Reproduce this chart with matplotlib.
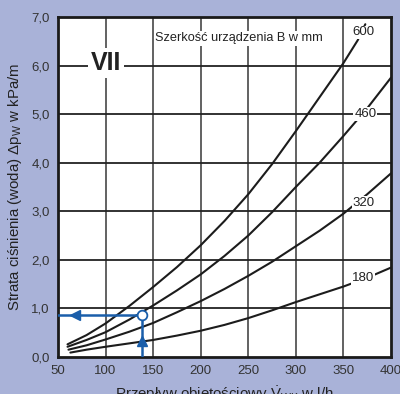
import numpy as np
import matplotlib.pyplot as plt

plt.rcParams['font.family'] = ['Liberation Sans', 'DejaVu Sans']
plt.rcParams['mathtext.fontset'] = 'custom'
plt.rcParams['mathtext.rm'] = 'Liberation Sans'
plt.rcParams['mathtext.it'] = 'Liberation Sans:italic'

# przeplyw [l/h] i strata cisnienia [kPa/m] dla szerokosci B
x600 = [60, 80, 100, 125, 150, 175, 200, 225, 250, 275, 300, 325, 350, 365, 373]
y600 = [0.26, 0.45, 0.69, 1.05, 1.44, 1.85, 2.3, 2.8, 3.35, 3.97, 4.65, 5.35, 6.05, 6.52, 6.85]
x460 = [60, 80, 100, 125, 150, 175, 200, 225, 250, 275, 300, 325, 350, 375, 400]
y460 = [0.21, 0.35, 0.51, 0.77, 1.06, 1.37, 1.7, 2.08, 2.5, 2.98, 3.5, 4.0, 4.55, 5.12, 5.75]
x320 = [61, 80, 100, 125, 150, 175, 200, 225, 250, 275, 300, 325, 350, 375, 400]
y320 = [0.15, 0.24, 0.36, 0.52, 0.7, 0.92, 1.15, 1.4, 1.67, 1.96, 2.28, 2.6, 2.95, 3.35, 3.78]
x180 = [63, 80, 100, 125, 150, 175, 200, 225, 250, 275, 300, 325, 350, 375, 400]
y180 = [0.09, 0.15, 0.21, 0.28, 0.35, 0.44, 0.54, 0.66, 0.8, 0.96, 1.13, 1.29, 1.45, 1.63, 1.84]

labels = ['600', '460', '320', '180']
label_x = [371, 373, 371, 371]
label_y = [6.68, 5.0, 3.17, 1.62]

# punkt odczytu
read_x = 138
read_y = 0.87

xticks = [50, 100, 150, 200, 250, 300, 350, 400]
yticks = [0, 1, 2, 3, 4, 5, 6, 7]

bg = '#a9b2d8'
blue = '#1a5eaa'

fig = plt.figure(figsize=(4.0, 3.94), dpi=100, facecolor=bg)
ax = fig.add_axes([0.145, 0.094, 0.8325, 0.863])
ax.set_xlim(50, 400)
ax.set_ylim(0, 7)

for v in xticks[1:-1]:
    ax.axvline(v, color='#555555', lw=1.3, zorder=1)
for v in yticks[1:-1]:
    ax.axhline(v, color='#222222', lw=1.3, zorder=1)

for xs, ys in [(x600, y600), (x460, y460), (x320, y320), (x180, y180)]:
    ax.plot(xs, ys, color='#1c1c1c', lw=1.5, zorder=3, solid_capstyle='round',
            solid_joinstyle='round')

for t, lx, ly in zip(labels, label_x, label_y):
    ax.text(lx, ly, t, fontsize=9.5, color='#222222', ha='center', va='center', zorder=4,
            bbox=dict(facecolor='white', edgecolor='none', pad=0.6))

# linie odczytu
ax.plot([read_x, read_x], [0, read_y], color=blue, lw=1.8, zorder=5)
ax.plot([50, read_x], [read_y, read_y], color=blue, lw=1.8, zorder=5)
ax.plot([read_x], [0.33], marker='^', color=blue, ms=7, zorder=6)
ax.plot([68], [read_y], marker='<', color=blue, ms=7, zorder=6)
ax.plot([read_x], [read_y], marker='o', mfc='white', mec=blue, mew=1.3, ms=7, zorder=7)

ax.text(100, 6.05, 'VII', fontsize=18, fontweight='bold', color='#222222', ha='center', va='center',
        zorder=4, bbox=dict(facecolor='white', edgecolor='none', pad=2))
ax.text(152, 6.56, 'Szerkość urządzenia B w mm', fontsize=9.2, color='#222222', ha='left', va='center',
        zorder=4, bbox=dict(facecolor='white', edgecolor='none', pad=1))

ax.set_xticks(xticks)
ax.set_yticks(yticks)
ax.set_xticklabels([str(v) for v in xticks])
ax.set_yticklabels(['%d,0' % v for v in yticks])
ax.tick_params(length=0, labelsize=9.5, labelcolor='#333333', pad=6)
for s in ax.spines.values():
    s.set_linewidth(2)
    s.set_color('#1a1a1a')

ax.set_xlabel(r'Przepływ objętościowy $\dot{\mathrm{V}}_{\mathrm{WK}}$ w l/h', fontsize=10.8,
              color='#222222', labelpad=5)
ax.set_ylabel(r'Strata ciśnienia (woda) $\Delta\mathrm{p}_{\mathrm{W}}$ w kPa/m', fontsize=10.8,
              color='#222222', labelpad=5)

fig.savefig('out.png', dpi=100, facecolor=bg)
